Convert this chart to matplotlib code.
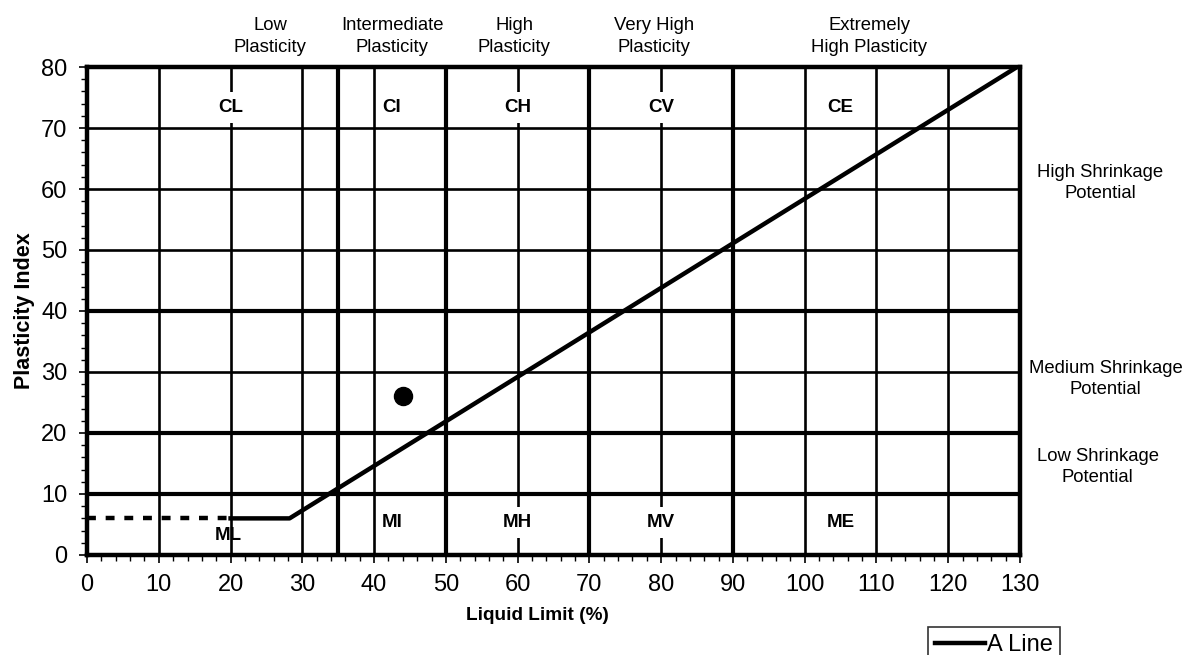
import matplotlib
matplotlib.use("Agg")
import matplotlib.pyplot as plt
from matplotlib.ticker import MultipleLocator

plt.rcParams['font.family'] = ['Liberation Sans', 'DejaVu Sans']

# Plasticity chart boundaries
thin_v = [10, 20, 30, 40, 60, 80, 100, 110, 120]
thick_v = [35, 50, 70, 90]
thin_h = [30, 50, 60, 70]
thick_h = [10, 20, 40]

# Zone labels (liquid limit, plasticity index)
clay_labels = ["CL", "CI", "CH", "CV", "CE"]
clay_x = [20, 42.5, 60, 80, 105]
clay_y = 73.4
silt_labels = ["ML", "MI", "MH", "MV", "ME"]
silt_x = [19.7, 42.5, 60, 80, 105]
silt_y = [3.2, 5.3, 5.3, 5.3, 5.3]

plasticity_groups = ["Low\nPlasticity", "Intermediate\nPlasticity", "High\nPlasticity",
                     "Very High\nPlasticity", "Extremely\nHigh Plasticity"]
plasticity_x = [25.5, 42.5, 59.5, 79, 109]

shrinkage_labels = ["High Shrinkage\nPotential", "Medium Shrinkage\nPotential",
                    "Low Shrinkage\nPotential"]
shrinkage_x = [141.2, 141.9, 140.8]
shrinkage_y = [61.0, 28.8, 14.4]

# A-line: PI = 0.73 (LL - 20), floored at PI = 6
a_slope = 0.73
a_origin = 20
a_floor = 6
a_ll = [20, a_origin + a_floor / a_slope, 130]

# Sample point
sample_ll = [44]
sample_pi = [26]

fig = plt.figure(figsize=(11.84, 6.55), dpi=100)
ax = fig.add_axes([0.0735, 0.1527, 0.7880, 0.7450])
ax.set_xlim(0, 130)
ax.set_ylim(0, 80)

for x in thin_v:
    ax.axvline(x, color='black', lw=1.9, zorder=1)
for x in thick_v:
    ax.axvline(x, color='black', lw=3.0, zorder=1)
for y in thin_h:
    ax.axhline(y, color='black', lw=1.9, zorder=2.5)
for y in thick_h:
    ax.axhline(y, color='black', lw=3.0, zorder=2.5)

# A-line
a_pi = [max(a_floor, a_slope * (ll - a_origin)) for ll in a_ll]
line, = ax.plot(a_ll, a_pi, color='black', lw=3.2, solid_joinstyle='round',
                zorder=3, label='A Line')
ax.plot([0, 20], [a_floor, a_floor], color='black', lw=3.2,
        dashes=(2.0, 2.2), zorder=3)

ax.plot(sample_ll, sample_pi, 'o', color='black', ms=13, zorder=4)

label_box = dict(facecolor='white', edgecolor='none', pad=5)
for t, x in zip(clay_labels, clay_x):
    ax.text(x, clay_y, t, ha='center', va='center', fontsize=13.5, fontweight='bold',
            bbox=label_box, zorder=2)
for t, x, y in zip(silt_labels, silt_x, silt_y):
    box = label_box if t in ("MH", "MV") else None
    ax.text(x, y, t, ha='center', va='center', fontsize=13.5, fontweight='bold',
            bbox=box, zorder=2)

for t, x in zip(plasticity_groups, plasticity_x):
    ax.text(x, 81.8, t, ha='center', va='bottom', fontsize=13.3, linespacing=1.35)

for t, x, y in zip(shrinkage_labels, shrinkage_x, shrinkage_y):
    ax.text(x, y, t, ha='center', va='center', fontsize=13.3, linespacing=1.3,
            clip_on=False)

for s in ax.spines.values():
    s.set_linewidth(3.2)

ax.xaxis.set_major_locator(MultipleLocator(10))
ax.xaxis.set_minor_locator(MultipleLocator(2))
ax.yaxis.set_major_locator(MultipleLocator(10))
ax.yaxis.set_minor_locator(MultipleLocator(2))
ax.tick_params(which='major', direction='out', length=6, width=1.2, labelsize=17, pad=8)
ax.tick_params(axis='y', which='major', pad=8)
ax.tick_params(which='minor', direction='out', length=4, width=1.0)

ax.set_xlabel("Liquid Limit (%)", fontsize=13.7, fontweight='bold')
ax.xaxis.set_label_coords(0.483, -0.106)
ax.set_ylabel("Plasticity Index", fontsize=15.5, fontweight='bold')
ax.yaxis.set_label_coords(-0.0555, 0.5)

leg = fig.legend(handles=[line], labels=['A Line'], loc='lower left',
                 bbox_to_anchor=(928 / 1184, -0.012), fontsize=17, frameon=True,
                 fancybox=False, edgecolor='black', handlelength=2.1,
                 handletextpad=0.1, borderpad=0.3, borderaxespad=0)
leg.get_frame().set_linewidth(1.2)

fig.savefig("out.png", dpi=100)
